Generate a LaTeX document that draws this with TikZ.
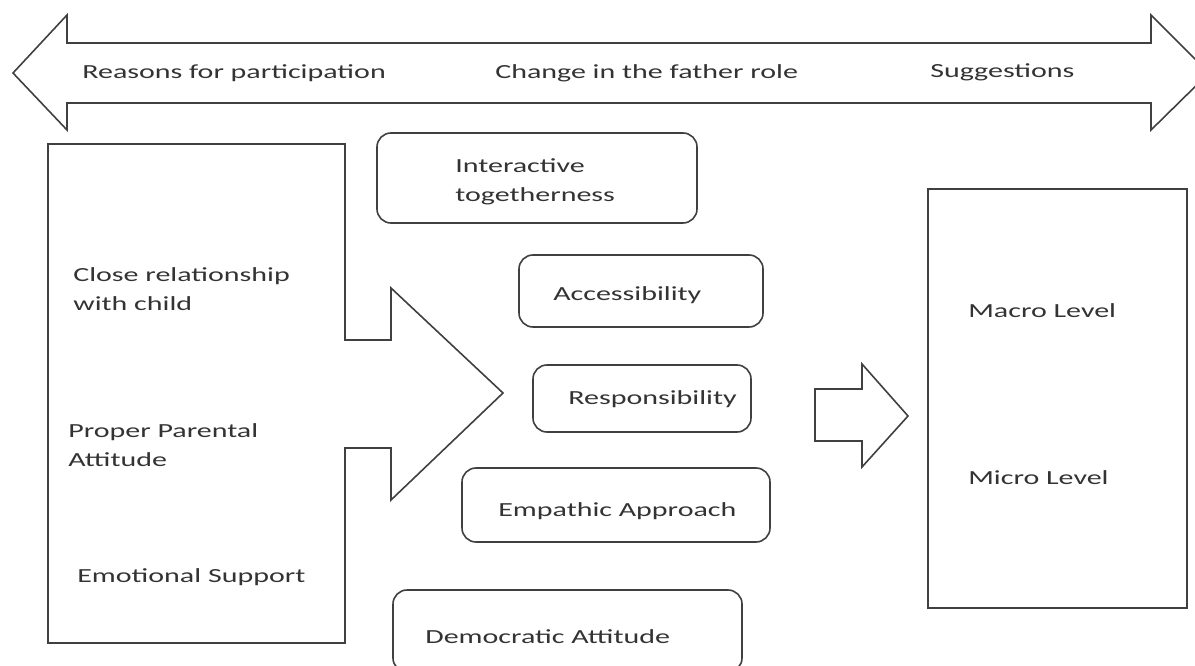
\documentclass[tikz,border=0pt]{standalone}
\usepackage{fontspec}
\setmainfont{Carlito}
\begin{document}
\begin{tikzpicture}[x=1pt,y=-1pt,
  outline/.style={draw=black!75, line width=1.6pt, line join=miter},
  rbox/.style={draw=black!75, line width=1.6pt, rounded corners=14pt},
  lbl/.style={font=\fontsize{20}{29}\selectfont, text=black!80, inner sep=0pt, anchor=base west, xscale=1.5, align=left}]
\useasboundingbox (0,0) rectangle (1195,666);
% top double arrow
\draw[outline] (13,73) -- (67,15) -- (67,43) -- (1151,43) -- (1151,15) -- (1209,73) -- (1151,130) -- (1151,103) -- (67,103) -- (67,130) -- cycle;
\node[lbl] (reasons) at (82,79) {Reasons for participation};
\node[lbl] (change) at (495,79) {Change in the father role};
\node[lbl] (sugg) at (930,78) {Suggestions};
% left box with arrow
\draw[outline] (48,144) -- (345,144) -- (345,340) -- (391,340) -- (391,288) -- (503,393) -- (391,500) -- (391,448) -- (345,448) -- (345,643) -- (48,643) -- cycle;
\node[lbl] (close) at (73,310) {Close relationship\\with child};
\node[lbl] (proper) at (68,466) {Proper Parental\\Attitude};
\node[lbl] (emo) at (77,582) {Emotional Support};
% rounded boxes
\draw[rbox] (377,133) rectangle (697,223);
\node[lbl] (inter) at (455,202) {Interactive\\togetherness};
\draw[rbox] (519,255) rectangle (763,327);
\node[lbl] (access) at (553,300) {Accessibility};
\draw[rbox] (533,365) rectangle (751,432);
\node[lbl] (resp) at (568,404) {Responsibility};
\draw[rbox] (462,468) rectangle (770,542);
\node[lbl] (emp) at (498,516) {Empathic Approach};
\draw[rbox] (393,590) rectangle (742,672);
\node[lbl] (demo) at (425,643) {Democratic Attitude};
% small arrow
\draw[outline] (815,389) -- (862,389) -- (862,364) -- (908,416) -- (862,467) -- (862,441) -- (815,441) -- cycle;
% right box
\draw[outline] (928,189) rectangle (1187,608);
\node[lbl] (macro) at (968,317) {Macro Level};
\node[lbl] (micro) at (968,484) {Micro Level};
\end{tikzpicture}
\end{document}
